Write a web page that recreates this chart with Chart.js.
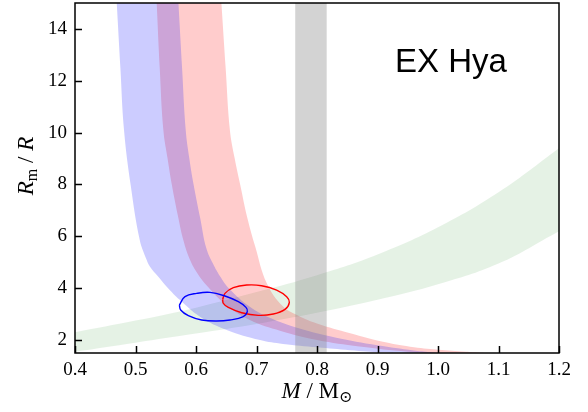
<!DOCTYPE html>
<html lang="en">
<head>
  <meta charset="UTF-8">
  <title>EX Hya</title>
  <script src="https://cdn.jsdelivr.net/npm/chart.js"></script>
  <style>
    body { margin: 0; background: #fff; }
    canvas { display: block; }
  </style>
</head>
<body>
  <canvas id="chart" width="588" height="412"></canvas>

  <script>
    // Tick values
    const xTicks = [0.4, 0.5, 0.6, 0.7, 0.8, 0.9, 1.0, 1.1, 1.2];
    const yTicks = [2, 4, 6, 8, 10, 12, 14];

    // Blue band: lower/left edge and upper/right edge (M, Rm/R), top to bottom
    const blueLowM = [0.469, 0.475, 0.481, 0.492, 0.507, 0.5185, 0.524, 0.537, 0.5516, 0.5736, 0.6066, 0.6507, 0.7058, 0.7438, 0.800, 0.8545, 0.909, 0.950];
    const blueLowR = [15, 12.5, 10.1, 7.98, 5.86, 5.09, 4.83, 4.46, 4.06, 3.54, 2.90, 2.39, 2.0, 1.85, 1.72, 1.61, 1.525, 1.5];
    const blueUpM = [0.571, 0.577, 0.583, 0.589, 0.596, 0.607, 0.617, 0.628, 0.640, 0.655, 0.689, 0.720, 0.770, 0.830, 0.900, 0.960, 1.000];
    const blueUpR = [15, 12.5, 10.1, 9.0, 8.0, 6.7, 5.55, 4.95, 4.45, 3.98, 3.28, 2.88, 2.45, 2.1, 1.8, 1.6, 1.5];

    // Red band
    const redLowM = [0.535, 0.540, 0.546, 0.553, 0.560, 0.570, 0.579, 0.590, 0.603, 0.620, 0.650, 0.689, 0.740, 0.800, 0.870, 0.950, 0.990];
    const redLowR = [15, 12.5, 10.1, 9.0, 8.0, 6.8, 5.86, 5.1, 4.55, 4.05, 3.35, 2.77, 2.35, 2.0, 1.75, 1.55, 1.5];
    const redUpM = [0.642, 0.649, 0.656, 0.664, 0.673, 0.685, 0.698, 0.717, 0.744, 0.770, 0.800, 0.855, 0.909, 0.954, 1.000, 1.047, 1.075];
    const redUpR = [15, 12.5, 10.1, 9.0, 8.0, 6.7, 5.6, 4.19, 3.29, 2.93, 2.64, 2.26, 1.93, 1.74, 1.63, 1.55, 1.5];

    // Green band, left to right
    const greenM = [0.4, 0.5, 0.6, 0.7, 0.8, 0.9, 1.0, 1.1, 1.2];
    const greenLowR = [1.55, 1.9, 2.25, 2.62, 3.05, 3.55, 4.15, 4.95, 6.2];
    const greenUpR = [2.3, 2.75, 3.25, 3.85, 4.5, 5.3, 6.35, 7.7, 9.4];

    // Grey vertical band (M range)
    const greyM = [0.764, 0.816];

    // Ellipses
    const blueEllM = [0.5725, 0.5818, 0.6011, 0.6231, 0.6479, 0.6700, 0.6826, 0.6848, 0.6782, 0.6562, 0.6342, 0.6094, 0.5873, 0.5747];
    const blueEllR = [3.350, 3.672, 3.800, 3.839, 3.698, 3.479, 3.260, 3.093, 2.900, 2.772, 2.733, 2.772, 2.939, 3.157];
    const redEllM = [0.6441, 0.6479, 0.6617, 0.6838, 0.7085, 0.7333, 0.7499, 0.7543, 0.7471, 0.7278, 0.7030, 0.6755, 0.6534, 0.6452];
    const redEllR = [3.569, 3.800, 4.019, 4.122, 4.096, 3.929, 3.672, 3.453, 3.183, 3.003, 2.952, 3.054, 3.260, 3.415];

    const yMin = 1.5, yMax = 15;

    function pts(ms, rs) {
      return ms.map((m, i) => ({ x: m, y: rs[i] }));
    }

    // closed outline: first edge as given, second edge walked back
    function band(m1, r1, m2, r2) {
      return pts(m1, r1).concat(pts(m2, r2).reverse());
    }

    function loop(ms, rs) {
      const p = pts(ms, rs);
      p.push(p[0]);
      return p;
    }

    const serif = '"Liberation Serif", "Times New Roman", serif';

    // frame, inward ticks, axis titles and the star name
    const decor = {
      id: 'decor',
      afterDraw(chart) {
        const { ctx, chartArea: a, scales: { x, y } } = chart;
        ctx.save();
        ctx.strokeStyle = '#000';
        ctx.lineWidth = 1.5;
        ctx.beginPath();
        xTicks.forEach(v => {
          const px = Math.round(x.getPixelForValue(v)) + 0.5;
          ctx.moveTo(px, a.bottom);
          ctx.lineTo(px, a.bottom - 7);
        });
        yTicks.forEach(v => {
          const py = Math.round(y.getPixelForValue(v)) + 0.5;
          ctx.moveTo(a.left, py);
          ctx.lineTo(a.left + 7, py);
        });
        ctx.stroke();
        ctx.strokeRect(a.left, a.top, a.right - a.left, a.bottom - a.top);

        ctx.fillStyle = '#000';
        ctx.textBaseline = 'alphabetic';

        // x title: M/M_sun
        const big = 23, small = 16;
        const xParts = [
          { t: 'M', f: 'italic ' + big + 'px ' + serif, dy: 0 },
          { t: ' / ', f: big + 'px ' + serif, dy: 0 },
          { t: 'M', f: big + 'px ' + serif, dy: 0 },
          { t: '\u2299', f: small + 'px "DejaVu Serif"', dy: 4 }
        ];
        drawParts(ctx, xParts, (a.left + a.right) / 2, 398);

        // y title: R_m/R, rotated
        ctx.save();
        ctx.translate(33, (a.top + a.bottom) / 2 - 12);
        ctx.rotate(-Math.PI / 2);
        const yParts = [
          { t: 'R', f: 'italic ' + big + 'px ' + serif, dy: 0 },
          { t: 'm', f: small + 'px ' + serif, dy: 4 },
          { t: ' / ', f: big + 'px ' + serif, dy: 0 },
          { t: 'R', f: 'italic ' + big + 'px ' + serif, dy: 0 }
        ];
        drawParts(ctx, yParts, 0, 0);
        ctx.restore();

        ctx.font = '33px "Liberation Sans", Arial, sans-serif';
        ctx.textAlign = 'left';
        ctx.fillText('EX Hya', x.getPixelForValue(0.929), y.getPixelForValue(12.34));
        ctx.restore();
      }
    };

    function drawParts(ctx, parts, cx, base) {
      ctx.textAlign = 'left';
      let w = 0;
      parts.forEach(p => { ctx.font = p.f; p.w = ctx.measureText(p.t).width; w += p.w; });
      let px = cx - w / 2;
      parts.forEach(p => {
        ctx.font = p.f;
        ctx.fillText(p.t, px, base + p.dy);
        px += p.w;
      });
    }

    const noPoint = { pointRadius: 0, pointHoverRadius: 0 };

    new Chart(document.getElementById('chart'), {
      type: 'line',
      data: {
        datasets: [
          Object.assign({ data: loop(blueEllM, blueEllR), borderColor: '#0000ff', borderWidth: 1.4, tension: 0.4, fill: false }, noPoint),
          Object.assign({ data: loop(redEllM, redEllR), borderColor: '#ff0000', borderWidth: 1.4, tension: 0.4, fill: false }, noPoint),
          Object.assign({
            data: [{ x: greyM[0], y: yMin }, { x: greyM[0], y: yMax }, { x: greyM[1], y: yMax }, { x: greyM[1], y: yMin }],
            borderWidth: 0, backgroundColor: 'rgba(128,128,128,0.35)', fill: 'shape'
          }, noPoint),
          Object.assign({ data: band(blueLowM, blueLowR, blueUpM, blueUpR), borderWidth: 0, tension: 0.4, backgroundColor: 'rgba(0,0,255,0.2)', fill: 'shape' }, noPoint),
          Object.assign({ data: band(redLowM, redLowR, redUpM, redUpR), borderWidth: 0, tension: 0.4, backgroundColor: 'rgba(255,0,0,0.2)', fill: 'shape' }, noPoint),
          // green band: upper edge filled down to the lower edge
          Object.assign({ data: pts(greenM, greenUpR), borderWidth: 0, tension: 0.4, backgroundColor: 'rgba(0,128,0,0.1)', fill: '+1' }, noPoint),
          Object.assign({ data: pts(greenM, greenLowR), borderWidth: 0, tension: 0.4, fill: false }, noPoint)
        ]
      },
      options: {
        responsive: false,
        animation: false,
        devicePixelRatio: 1,
        layout: { padding: { left: 0, top: 3, right: 29, bottom: 0 } },
        plugins: { legend: { display: false }, tooltip: { enabled: false } },
        scales: {
          x: {
            type: 'linear',
            min: 0.4,
            max: 1.2,
            afterBuildTicks: s => { s.ticks = xTicks.map(v => ({ value: v })); },
            afterFit: s => { s.height = 59; s.paddingLeft = 0; s.paddingRight = 0; },
            grid: { display: false, drawTicks: false },
            border: { display: false },
            ticks: {
              color: '#000',
              padding: 6,
              maxRotation: 0,
              autoSkip: false,
              font: { family: serif, size: 19 },
              callback: v => v.toFixed(1)
            }
          },
          y: {
            type: 'linear',
            min: yMin,
            max: yMax,
            afterBuildTicks: s => { s.ticks = yTicks.map(v => ({ value: v })); },
            afterFit: s => { s.width = 75; s.paddingTop = 0; s.paddingBottom = 0; },
            grid: { display: false, drawTicks: false },
            border: { display: false },
            ticks: {
              color: '#000',
              padding: 8,
              autoSkip: false,
              font: { family: serif, size: 19 }
            }
          }
        }
      },
      plugins: [decor]
    });
  </script>
</body>
</html>
